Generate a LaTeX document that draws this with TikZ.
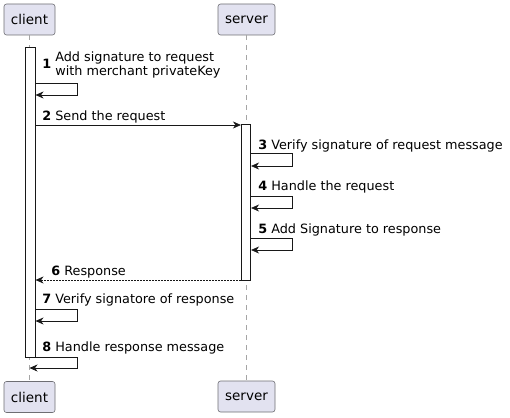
\documentclass[tikz,border=0pt]{standalone}
\usepackage{fontspec}
\setmainfont{DejaVu Sans}
\usetikzlibrary{arrows.meta}
\usetikzlibrary{positioning}
\usetikzlibrary{calc}

\definecolor{partfill}{RGB}{226,226,240}
\definecolor{partline}{RGB}{24,24,24}
\definecolor{boxline}{RGB}{110,110,115}
\definecolor{lifegray}{RGB}{165,165,165}

\begin{document}
\begin{tikzpicture}[x=1pt,y=-1pt,>={Stealth[length=8pt,width=7pt,inset=2.5pt]},
				line width=0.7pt]
				\tikzstyle{participant}=[rectangle,rounded corners=2.5pt,draw=boxline,line width=0.6pt,fill=partfill,minimum height=31pt,inner sep=0pt,font=\fontsize{13.5}{16}\selectfont]
				\tikzstyle{actbar}=[rectangle,draw=partline,line width=0.6pt,fill=white,minimum width=9.5pt,inner sep=0pt]
				\tikzstyle{lifeline}=[draw=lifegray,line width=1pt,dash pattern=on 5pt off 5pt]
				\tikzstyle{msg}=[->,draw=partline]
				\tikzstyle{reply}=[->,draw=partline,dash pattern=on 1.5pt off 1.5pt]
				\tikzstyle{lbl}=[anchor=west,inner sep=0pt,font=\fontsize{12.8}{14}\selectfont]
				
				\useasboundingbox (0,0) rectangle (510,417);
				
				% participants
				\node[participant,minimum width=51pt] (clientTop) at (29.5,19.5) {client};
				\node[participant,minimum width=57pt] (serverTop) at (246.5,19.5) {server};
				\node[participant,minimum width=51pt] (clientBot) at (29.5,397) {client};
				\node[participant,minimum width=57pt] (serverBot) at (246.5,396.5) {server};
				
				\draw[lifeline] (clientTop) -- (clientBot);
				\draw[lifeline] (serverTop) -- (serverBot);
				
				% activations
				\node[actbar,minimum height=310pt] (clientAct) at (30.5,202) {};
				\node[actbar,minimum height=156pt] (serverAct) at (246,202) {};
				
				% messages
				\draw[msg] (clientAct.east |- 0,83) -- ++(42,0) -- ++(0,12) -- (clientAct.east |- 0,95);
				\node[lbl] (m1) at (42,66) {\textbf{1} \begin{tabular}{@{}l@{}}Add signature to request\\with merchant privateKey\end{tabular}};
				
				\draw[msg] (clientAct.east |- 0,125) -- (serverAct.west |- 0,125);
				\node[lbl] (m2) at (42,117) {\textbf{2} Send the request};
				
				\draw[msg] (serverAct.east |- 0,153) -- ++(41,0) -- ++(0,13) -- (serverAct.east |- 0,166);
				\node[lbl] (m3) at (258,146) {\textbf{3} Verify signature of request message};
				
				\draw[msg] (serverAct.east |- 0,196) -- ++(41,0) -- ++(0,12) -- (serverAct.east |- 0,208);
				\node[lbl] (m4) at (258,187) {\textbf{4} Handle the request};
				
				\draw[msg] (serverAct.east |- 0,238) -- ++(41,0) -- ++(0,12) -- (serverAct.east |- 0,250);
				\node[lbl] (m5) at (258,230) {\textbf{5} Add Signature to response};
				
				\draw[reply] (serverAct.west |- 0,280) -- (clientAct.east |- 0,280);
				\node[lbl] (m6) at (51,272) {\textbf{6} Response};
				
				\draw[msg] (clientAct.east |- 0,309) -- ++(42,0) -- ++(0,12) -- (clientAct.east |- 0,321);
				\node[lbl] (m7) at (42,300) {\textbf{7} Verify signatore of response};
				
				\draw[msg] (clientAct.east |- 0,357) -- ++(42,0) -- ++(0,11) -- (clientTop |- 0,368);
				\node[lbl] (m8) at (42,348) {\textbf{8} Handle response message};
\end{tikzpicture}
\end{document}
